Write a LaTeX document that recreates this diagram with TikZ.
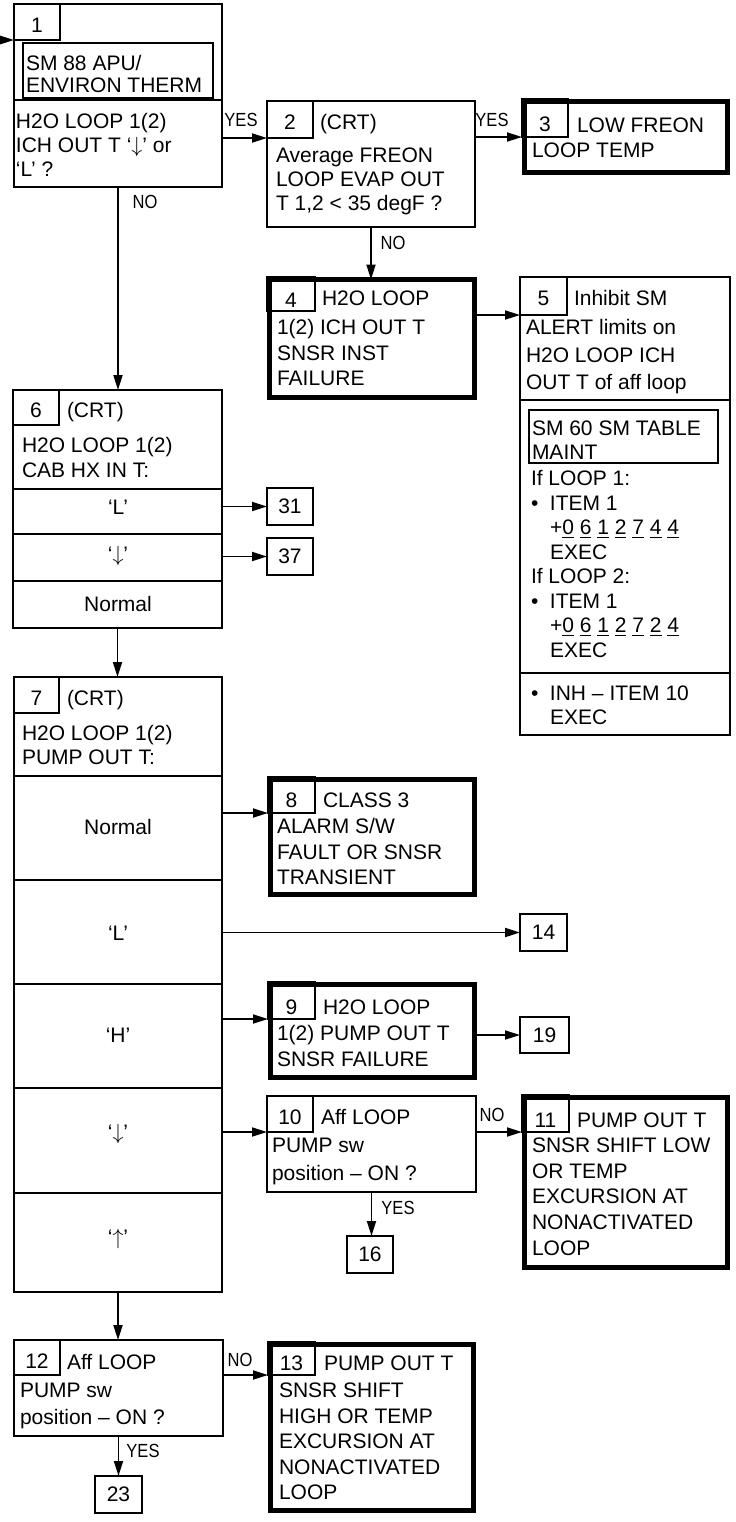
\documentclass[tikz,border=0pt]{standalone}
\usepackage{fontspec}
\setmainfont{Liberation Sans}
\usepackage{graphicx}
\usetikzlibrary{arrows.meta,fit}
\newcommand\hs{\rule{0pt}{9pt}}
\newcommand\bul{\makebox[9.5pt][l]{•}}
\newcommand\ind{\hspace*{9.5pt}}
\newcommand\ul[1]{\underline{#1}}
\newcommand\lb[1]{\scalebox{0.87}[1]{#1}}
\newcommand\dn{$\downarrow$}
\newcommand\upa{$\uparrow$}
\tikzset{
  thinbox/.style={draw, line width=1.2pt, inner sep=0pt, outer sep=0pt},
  thickbox/.style={draw, line width=2.5pt, inner sep=0pt, outer sep=0pt},
  numbox/.style 2 args={draw, line width=0.75pt, inner sep=0pt, outer sep=0pt,
    label={[inner sep=0pt, yshift=#2, font=\fontsize{10.5}{12}\selectfont]center:#1}},
  ibox/.style={draw, line width=1pt, inner sep=0pt, outer sep=0pt},
  term/.style={draw, line width=1pt, inner sep=0pt, outer sep=0pt,
    label={[inner sep=0pt, font=\fontsize{10.5}{12}\selectfont]center:#1}},
  txt/.style={anchor=north west, inner sep=0pt, outer sep=0pt, align=left, font=\fontsize{10.5}{#1}\selectfont},
  txt/.default=12.25pt,
  ctr/.style={inner sep=0pt, font=\fontsize{10.5}{12}\selectfont},
  lbl/.style={inner sep=0pt, font=\fontsize{9.5}{10}\selectfont},
  arr/.style={-{Triangle[length=7.5pt,width=4.5pt]}, line width=0.9pt},
  div/.style={line width=1.2pt}
}
\begin{document}
\begin{tikzpicture}[x=0.5pt,y=-0.5pt]
\useasboundingbox (0,0) rectangle (735,1522);

% ---- Box 1
\node[thinbox, fit={(14,4)(222,187)}] (b1) {};
\node[numbox={1}{-1.5pt}, fit={(14,4)(60,40)}] (n1) {};
\node[ibox, fit={(23,43)(213,98)}] (i1) {};
\node[txt=11pt] (s1) at (26,52) {\hs SM 88 APU/\\ENVIRON THERM};
\draw[div] (14,100) -- (222,100);
\node[txt=12pt] (d1) at (16,110.5) {\hs H2O LOOP 1(2)\\ICH OUT T ‘\dn’ or\\‘L’ ?};
\coordinate (e0) at (0,40);
\draw[arr] (e0) -- (n1.south west);

% ---- Box 2
\node[thinbox, fit={(267,101)(475,227)}] (b2) {};
\node[numbox={2}{-1.25pt}, fit={(267,101)(313,138)}] (n2) {};
\node[txt] (h2) at (320,111.5) {\hs(CRT)};
\node[txt=12pt] (d2) at (276,144.5) {\hs Average FREON\\LOOP EVAP OUT\\T 1,2 < 35 degF ?};
\draw[arr] (b1.east |- n2.south west) -- (n2.south west);
\node[lbl] (y12) at (241,120) {\lb{YES}};

% ---- Box 3
\node[thickbox, fit={(524.5,101.5)(727.5,172.5)}] (b3) {};
\node[numbox={3}{-3.25pt}, fit={(522,99)(568,137)}] (n3) {};
\node[txt] (h3) at (577,114.5) {\hs LOW FREON};
\node[txt] (d3) at (532,139.5) {\hs LOOP TEMP};
\draw[arr] (b2.east |- n3.south west) -- (n3.south west);
\node[lbl] (y23) at (492,120) {\lb{YES}};

% ---- Box 4
\node[thickbox, fit={(269.5,279.5)(474.5,397.5)}] (b4) {};
\node[numbox={4}{-3.25pt}, fit={(267,277)(315,311)}] (n4) {};
\node[txt] (h4) at (322,287.5) {\hs H2O LOOP};
\node[txt=12.75pt] (d4) at (277,316.5) {\hs 1(2) ICH OUT T\\SNSR INST\\FAILURE};
\draw[arr] (b2.south) -- (b2.south |- b4.north);
\node[lbl] (n24) at (393,243) {\lb{NO}};

% ---- Box 5
\node[thinbox, fit={(520,277)(730,735)}] (b5) {};
\node[numbox={5}{-1.25pt}, fit={(520,277)(567,315)}] (n5) {};
\node[txt] (h5) at (574,287.5) {\hs Inhibit SM};
\node[txt=13.75pt] (d5) at (526,316.5) {\hs ALERT limits on\\H2O LOOP ICH\\OUT T of aff loop};
\draw[div] (520,400) -- (730,400);
\node[ibox, fit={(529,410)(718,463)}] (i5) {};
\node[txt=12pt] (s5) at (532,417.5) {\hs SM 60 SM TABLE\\MAINT};
\node[txt=12.25pt] (e5) at (531,467.5) {\hs If LOOP 1:\\\bul ITEM 1\\\ind +\ul{0} \ul{6} \ul{1} \ul{2} \ul{7} \ul{4} \ul{4}\\\ind EXEC\\If LOOP 2:\\\bul ITEM 1\\\ind +\ul{0} \ul{6} \ul{1} \ul{2} \ul{7} \ul{2} \ul{4}\\\ind EXEC};
\draw[div] (520,673) -- (730,673);
\node[txt=12pt] (f5) at (531,682.5) {\hs\bul INH – ITEM 10\\\ind EXEC};
\draw[arr] (b4.east |- n5.south west) -- (n5.south west);

% ---- Box 6
\node[thinbox, fit={(13,390)(222,628)}] (b6) {};
\node[numbox={6}{-1.25pt}, fit={(13,390)(59,425)}] (n6) {};
\node[txt] (h6) at (67,399.5) {\hs(CRT)};
\node[txt=12.5pt] (d6) at (22,434.5) {\hs H2O LOOP 1(2)\\CAB HX IN T:};
\draw[div] (13,489) -- (222,489);
\draw[div] (13,534) -- (222,534);
\draw[div] (13,581) -- (222,581);
\node[ctr] (r6a) at (118,507) {‘L’};
\node[ctr] (r6b) at (118,556) {‘\dn’};
\node[ctr] (r6c) at (118,604) {Normal};
\draw[arr] (b1.south) -- (b1.south |- b6.north);
\node[lbl] (n16) at (145,202) {\lb{NO}};
\node[term=31, fit={(267,488)(313,525)}] (t31) {};
\node[term=37, fit={(267,538)(313,575)}] (t37) {};
\draw[arr] (t31.west -| b6.east) -- (t31.west);
\draw[arr] (t37.west -| b6.east) -- (t37.west);

% ---- Box 7
\node[thinbox, fit={(14,677)(222,1292)}] (b7) {};
\node[numbox={7}{-1.5pt}, fit={(14,677)(59,713)}] (n7) {};
\node[txt] (h7) at (67,687.5) {\hs(CRT)};
\node[txt=12pt] (d7) at (22,722.5) {\hs H2O LOOP 1(2)\\PUMP OUT T:};
\draw[div] (14,776) -- (222,776);
\draw[div] (14,880) -- (222,880);
\draw[div] (14,984) -- (222,984);
\draw[div] (14,1088) -- (222,1088);
\draw[div] (14,1193) -- (222,1193);
\node[ctr] (r7a) at (118,827) {Normal};
\node[ctr] (r7b) at (118,933) {‘L’};
\node[ctr] (r7c) at (118,1035) {‘H’};
\node[ctr] (r7d) at (118,1134) {‘\dn’};
\node[ctr] (r7e) at (118,1239) {‘\upa’};
\draw[arr] (b6.south) -- (b6.south |- b7.north);

% ---- Box 8
\node[thickbox, fit={(270.5,779.5)(474.5,894.5)}] (b8) {};
\node[numbox={8}{-2.75pt}, fit={(268,777)(315,813)}] (n8) {};
\node[txt] (h8) at (323,789.5) {\hs CLASS 3};
\node[txt=12.75pt] (d8) at (277,815.5) {\hs ALARM S/W\\FAULT OR SNSR\\TRANSIENT};
\draw[arr] (n8.south west -| b7.east) -- (n8.south west);

% ---- 14
\node[term=14, fit={(520,914)(567,951)}] (t14) {};
\draw[arr] (t14.west -| b7.east) -- (t14.west);

% ---- Box 9
\node[thickbox, fit={(270.5,984.5)(474.5,1077.5)}] (b9) {};
\node[numbox={9}{-3.25pt}, fit={(268,982)(315,1019)}] (n9) {};
\node[txt] (h9) at (323,996.5) {\hs H2O LOOP};
\node[txt=13pt] (d9) at (277,1022.5) {\hs 1(2) PUMP OUT T\\SNSR FAILURE};
\draw[arr] (n9.south west -| b7.east) -- (n9.south west);
\node[term=19, fit={(520,1017)(569,1053)}] (t19) {};
\draw[arr] (t19.west -| b9.east) -- (t19.west);

% ---- Box 10
\node[thinbox, fit={(267,1096)(476,1192)}] (b10) {};
\node[numbox={10}{-1.5pt}, fit={(267,1096)(313,1132)}] (n10) {};
\node[txt] (h10) at (321,1106.5) {\hs Aff LOOP};
\node[txt=14pt] (d10) at (272,1134.5) {\hs PUMP sw\\position – ON ?};
\draw[arr] (n10.south west -| b7.east) -- (n10.south west);

% ---- Box 11
\node[thickbox, fit={(524.5,1097.5)(727.5,1267.5)}] (b11) {};
\node[numbox={11}{-3.5pt}, fit={(522,1095)(569,1132)}] (n11) {};
\node[txt] (h11) at (577,1109.5) {\hs PUMP OUT T};
\node[txt=12.85pt] (d11) at (532,1134.5) {\hs SNSR SHIFT LOW\\OR TEMP\\EXCURSION AT\\NONACTIVATED\\LOOP};
\draw[arr] (b10.east |- n11.south west) -- (n11.south west);
\node[lbl] (n1011) at (492,1115) {\lb{NO}};

% ---- 16
\node[term=16, fit={(347,1236)(393,1273)}] (t16) {};
\draw[arr] (b10.south) -- (b10.south |- t16.north);
\node[lbl] (y1016) at (398,1208) {\lb{YES}};

% ---- Box 12
\node[thinbox, fit={(14,1340)(223,1436)}] (b12) {};
\node[numbox={12}{-2pt}, fit={(14,1340)(60,1375)}] (n12) {};
\node[txt] (h12) at (67,1351.5) {\hs Aff LOOP};
\node[txt=13.5pt] (d12) at (20,1379.5) {\hs PUMP sw\\position – ON ?};
\draw[arr] (b7.south) -- (b7.south |- b12.north);

% ---- Box 13
\node[thickbox, fit={(270.5,1344.5)(473.5,1510.5)}] (b13) {};
\node[numbox={13}{-2.5pt}, fit={(268,1342)(315,1375)}] (n13) {};
\node[txt] (h13) at (324,1352.5) {\hs PUMP OUT T};
\node[txt=12.75pt] (d13) at (279,1379.5) {\hs SNSR SHIFT\\HIGH OR TEMP\\EXCURSION AT\\NONACTIVATED\\LOOP};
\draw[arr] (b12.east |- n13.south west) -- (n13.south west);
\node[lbl] (n1213) at (240,1360) {\lb{NO}};

% ---- 23
\node[term=23, fit={(95,1476)(142,1513)}] (t23) {};
\draw[arr] (b12.south) -- (b12.south |- t23.north);
\node[lbl] (y1223) at (143,1451) {\lb{YES}};
\end{tikzpicture}
\end{document}
